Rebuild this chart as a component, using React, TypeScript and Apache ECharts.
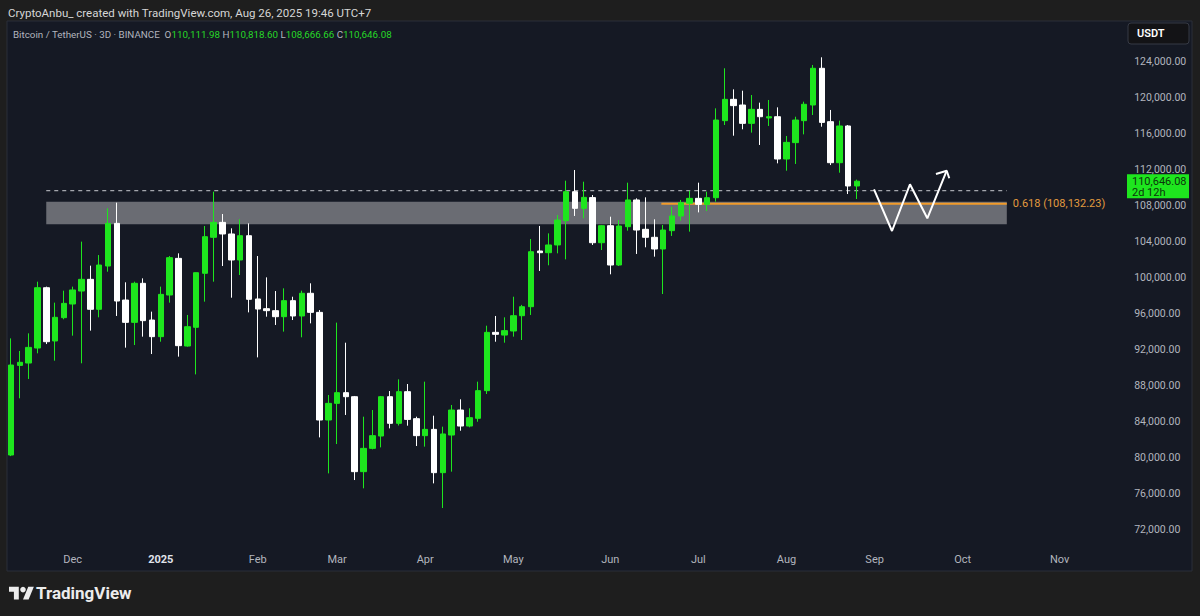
import React, { useEffect, useRef } from 'react';
import * as echarts from 'echarts';

// ---- time axis (3D candles) ----
const firstCandleDate = Date.UTC(2024, 10, 11); // Nov 11, 2024
const candleDays = 3;
const slotCount = 125; // candles + empty future slots shown on the axis
const monthNames = ['Jan', 'Feb', 'Mar', 'Apr', 'May', 'Jun', 'Jul', 'Aug', 'Sep', 'Oct', 'Nov', 'Dec'];

// ---- BTC/USDT 3D candles: [open, close, low, high] ----
const candles: number[][] = [
  [80220, 90220, 80100, 93180],
  [90180, 90520, 86520, 91780],
  [90440, 92180, 88670, 93740],
  [92110, 98810, 91520, 99480],
  [98810, 92810, 92550, 98930],
  [92890, 95520, 90700, 97150],
  [95480, 97070, 95300, 98480],
  [97000, 98560, 93480, 98930],
  [98440, 99740, 90410, 103930],
  [99740, 96410, 94040, 101260],
  [96410, 101330, 95520, 102440],
  [101220, 105960, 100590, 107630],
  [105960, 97330, 95670, 108260],
  [97440, 94960, 92150, 99410],
  [94960, 99300, 92440, 99480],
  [99300, 95150, 93370, 99850],
  [95220, 93370, 91440, 96150],
  [93370, 98070, 92810, 98930],
  [98000, 102150, 97150, 102330],
  [102070, 92370, 91150, 102630],
  [92330, 94480, 92260, 95780],
  [94410, 100480, 89180, 100500],
  [100410, 104480, 97260, 105670],
  [104410, 106070, 99480, 109480],
  [106070, 104780, 101220, 107000],
  [104780, 101890, 97700, 105410],
  [101890, 104590, 100220, 106410],
  [104590, 97520, 96070, 105960],
  [97560, 96440, 91070, 102330],
  [96480, 96260, 95590, 99960],
  [96260, 95590, 94670, 98440],
  [95590, 97370, 93930, 98740],
  [97370, 95670, 95220, 97810],
  [95670, 98190, 93300, 98480],
  [98190, 96070, 94850, 99300],
  [96070, 84110, 82180, 96330],
  [84110, 85960, 78180, 86890],
  [85960, 87150, 81440, 94930],
  [87150, 86700, 84670, 92700],
  [86700, 78370, 77440, 86780],
  [78370, 80960, 76520, 84480],
  [80960, 82370, 80850, 85220],
  [82330, 86700, 81070, 86780],
  [86700, 83740, 83180, 87330],
  [83740, 87260, 83500, 88630],
  [87260, 84180, 83480, 88110],
  [84260, 82370, 81220, 84480],
  [82370, 83070, 81150, 88370],
  [83070, 78260, 77070, 84590],
  [78260, 82560, 74330, 83370],
  [82440, 85220, 78370, 85780],
  [85220, 83440, 82920, 86410],
  [83440, 84370, 83300, 85410],
  [84300, 87370, 83920, 88370],
  [87370, 93850, 87000, 94590],
  [93850, 93630, 92810, 95670],
  [93550, 94040, 92700, 95520],
  [94000, 95700, 93370, 97810],
  [95700, 96700, 93000, 96900],
  [96700, 102810, 95780, 104220],
  [102890, 102700, 100670, 105670],
  [102700, 103560, 101300, 104850],
  [103560, 106330, 102630, 106890],
  [106260, 109480, 101960, 110700],
  [109480, 107630, 106780, 111890],
  [107630, 108850, 106520, 110590],
  [108820, 103810, 103560, 109110],
  [103810, 105700, 103000, 105780],
  [105700, 101330, 100300, 106700],
  [101330, 105670, 101220, 106330],
  [105590, 108560, 105150, 110480],
  [108560, 105220, 102560, 108740],
  [105300, 104410, 103300, 108850],
  [104410, 103110, 102260, 106410],
  [103110, 105220, 98110, 105780],
  [105150, 106780, 104560, 107810],
  [106780, 108260, 106260, 108560],
  [108190, 108740, 105040, 109590],
  [108740, 108070, 107180, 110480],
  [108070, 108810, 107330, 109480],
  [108810, 117440, 108370, 118740],
  [117370, 119740, 116890, 123190],
  [119740, 119040, 115700, 120850],
  [119110, 117070, 116410, 120700],
  [117070, 118630, 116040, 120220],
  [118630, 117810, 114670, 119370],
  [117670, 117810, 116780, 119670],
  [117810, 113110, 112630, 118850],
  [113110, 114960, 111810, 115670],
  [114930, 117440, 112560, 117810],
  [117370, 119190, 115850, 119480],
  [119110, 123190, 118000, 123560],
  [123190, 117180, 116700, 124410],
  [117260, 112700, 112440, 118560],
  [112700, 116780, 111590, 117370],
  [116780, 110112, 109220, 116890],
  [110111.98, 110646.08, 108666.66, 110818.60],
];

// ---- drawings (x in candle-index units, y in USDT) ----
const athLevel = 109588;
const zoneRange = [105855, 108367];
const fibRatio = '0.618';
const fibLevel = 108132.23;
const drawStart = 4;
const drawEnd = 113;
const fibStart = 73.8;
const zigzag: number[][] = [
  [97.93, 109744], [99.97, 105111], [102.01, 110300], [103.98, 106522], [106.18, 111811],
];
const arrowHead: number[][] = [[104.96, 111444], [106.18, 111811], [106.47, 110967]];

// ---- price axis ----
const priceMin = 68000;
const priceMax = 128000;
const priceStep = 4000;

const GREEN = '#1ee61e';
const WHITE = '#ffffff';
const FONT = 'Roboto, "Noto Sans", sans-serif';

const fmt = (v: number) =>
  v.toLocaleString('en-US', { minimumFractionDigits: 2, maximumFractionDigits: 2 });

const categories = Array.from({ length: slotCount }, (_, i) => {
  const d = new Date(firstCandleDate + i * candleDays * 86400000);
  return d.toISOString().slice(0, 10);
});
const monthOf = (s: string) => Number(s.slice(5, 7)) - 1;

export default function App() {
  const ref = useRef<HTMLDivElement>(null);
  useEffect(() => {
    if (!ref.current) return;
    const chart = echarts.init(ref.current, undefined, { renderer: 'svg' });
    const step = 8.8125;
    const firstCenter = 11;
    const gridLeft = firstCenter - step / 2;
    const gridRight = 1200 - (gridLeft + slotCount * step);
    const last = candles[candles.length - 1];

    chart.setOption({
      animation: false,
      backgroundColor: '#1e1e1e',
      grid: {
        left: gridLeft,
        right: gridRight,
        top: 25,
        bottom: 51,
        containLabel: false,
        outerBoundsMode: 'none',
      },
      xAxis: [
        {
          type: 'category',
          data: categories,
          boundaryGap: true,
          axisLine: { show: false },
          axisTick: { show: false },
          splitLine: { show: false },
          axisLabel: {
            margin: -11,
            color: '#b2b5be',
            fontSize: 11,
            fontFamily: FONT,
            interval: (idx: number) => idx > 0 && monthOf(categories[idx]) !== monthOf(categories[idx - 1]),
            formatter: (val: string) => {
              const m = monthOf(val);
              return m === 0 ? '{y|' + val.slice(0, 4) + '}' : monthNames[m];
            },
            rich: { y: { color: '#e0e3eb', fontWeight: 'bold', fontSize: 11, fontFamily: FONT } },
          },
        },
        { type: 'value', min: -0.5, max: slotCount - 0.5, show: false },
      ],
      yAxis: {
        type: 'value',
        position: 'right',
        min: priceMin,
        max: priceMax,
        interval: priceStep,
        scale: true,
        axisLine: { show: false },
        axisTick: { show: false },
        splitLine: { show: false },
        axisLabel: {
          margin: 26,
          align: 'left',
          color: '#b2b5be',
          fontSize: 10.5,
          fontFamily: FONT,
          formatter: (v: number) => (v === priceMin || v === priceMax ? '' : fmt(v)),
        },
      },
      series: [
        {
          type: 'line',
          xAxisIndex: 1,
          z: 1,
          silent: true,
          showSymbol: false,
          data: [[drawStart, athLevel], [drawEnd, athLevel]],
          lineStyle: { color: '#c9cbd1', width: 1, type: [4, 4] },
          markArea: {
            silent: true,
            itemStyle: { color: '#6a6c73' },
            data: [[{ coord: [drawStart, zoneRange[1]] }, { coord: [drawEnd, zoneRange[0]] }]],
          },
        },
        {
          type: 'line',
          xAxisIndex: 1,
          z: 2,
          silent: true,
          showSymbol: false,
          data: [[fibStart, fibLevel], [drawEnd, fibLevel]],
          lineStyle: { color: '#f29b2a', width: 2 },
          endLabel: {
            show: true,
            formatter: () => fibRatio + ' (' + fmt(fibLevel) + ')',
            color: '#e39b3f',
            fontSize: 11,
            fontFamily: FONT,
            distance: 6,
          },
        },
        {
          type: 'candlestick',
          xAxisIndex: 0,
          z: 5,
          barWidth: 6,
          data: candles,
          itemStyle: {
            color: GREEN,
            color0: WHITE,
            borderColor: GREEN,
            borderColor0: WHITE,
            borderWidth: 1,
          },
        },
        {
          type: 'line',
          xAxisIndex: 1,
          z: 6,
          silent: true,
          showSymbol: false,
          data: zigzag,
          lineStyle: { color: '#ffffff', width: 2 },
        },
        {
          type: 'line',
          xAxisIndex: 1,
          z: 6,
          silent: true,
          showSymbol: false,
          data: arrowHead,
          lineStyle: { color: '#ffffff', width: 2 },
        },
      ],
    });

    const badgeY = chart.convertToPixel({ yAxisIndex: 0 }, last[1]) as number;
    const up = last[1] >= last[0];

    chart.setOption({
      graphic: [
        // chart pane background
        {
          type: 'rect',
          z: -10,
          silent: true,
          shape: { x: 7, y: 21, width: 1185, height: 550 },
          style: { fill: '#151924', stroke: '#2a2e39', lineWidth: 1 },
        },
        {
          type: 'text',
          x: 8,
          y: 13,
          style: {
            text: 'CryptoAnbu_ created with TradingView.com, Aug 26, 2025 19:46 UTC+7',
            fill: '#d6d6d6',
            font: '11.5px ' + FONT,
            verticalAlign: 'middle',
          },
        },
        {
          type: 'text',
          x: 13,
          y: 34,
          z: 50,
          style: {
            text:
              'Bitcoin / TetherUS · 3D · BINANCE  O{g|' + fmt(last[0]) + '} H{g|' + fmt(last[3]) +
              '} L{g|' + fmt(last[2]) + '} C{g|' + fmt(last[1]) + '}',
            fill: '#b2b5be',
            font: '9.8px ' + FONT,
            verticalAlign: 'middle',
            rich: { g: { fill: up ? '#27d827' : '#ffffff', font: '9.8px ' + FONT } },
          },
        },
        // USDT button
        {
          type: 'rect',
          z: 50,
          shape: { x: 1128, y: 23, width: 61, height: 21, r: 3 },
          style: { fill: '#131316', stroke: '#363a45', lineWidth: 1 },
        },
        {
          type: 'text',
          z: 51,
          x: 1137,
          y: 33.5,
          style: { text: 'USDT', fill: '#ffffff', font: '600 11px ' + FONT, verticalAlign: 'middle' },
        },
        // last price badge
        {
          type: 'rect',
          z: 50,
          shape: { x: 1127, y: badgeY - 7, width: 62, height: 24 },
          style: { fill: GREEN },
        },
        {
          type: 'text',
          z: 51,
          x: 1132,
          y: badgeY,
          style: { text: fmt(last[1]), fill: '#0c350c', font: '11px ' + FONT, verticalAlign: 'middle' },
        },
        {
          type: 'text',
          z: 51,
          x: 1132,
          y: badgeY + 11,
          style: { text: '2d 12h', fill: '#0c350c', font: '11px ' + FONT, verticalAlign: 'middle' },
        },
        // TradingView logo
        {
          type: 'group',
          x: 9,
          y: 584,
          scaleX: 0.7,
          scaleY: 0.7,
          children: [
            { type: 'polygon', shape: { points: [[0, 4], [14, 4], [14, 22], [7, 22], [7, 11], [0, 11]] }, style: { fill: '#ececec' } },
            { type: 'circle', shape: { cx: 20, cy: 8, r: 4 }, style: { fill: '#ececec' } },
            { type: 'polygon', shape: { points: [[20, 22], [28, 22], [35.5, 4], [27.5, 4]] }, style: { fill: '#ececec' } },
          ],
        },
        {
          type: 'text',
          x: 36,
          y: 593,
          style: { text: 'TradingView', fill: '#ececec', font: 'bold 17px ' + FONT, verticalAlign: 'middle' },
        },
      ],
    });

    return () => chart.dispose();
  }, []);

  return (
    <div
      ref={ref}
      style={{ position: 'fixed', left: 0, top: 0, width: 1200, height: 616 }}
    />
  );
}
